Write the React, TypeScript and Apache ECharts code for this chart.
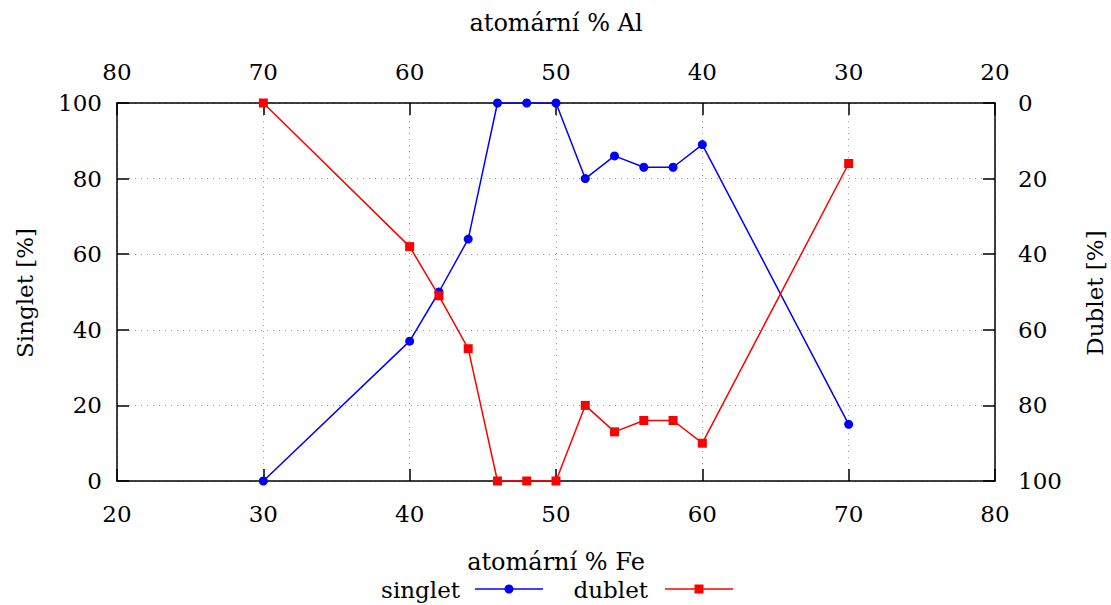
import React, { useEffect, useRef } from "react";
import * as echarts from "echarts";

const feValues = [30, 40, 42, 44, 46, 48, 50, 52, 54, 56, 58, 60, 70];
const singletValues = [0, 37, 50, 64, 100, 100, 100, 80, 86, 83, 83, 89, 15];
const dubletValues = [0, 38, 51, 65, 100, 100, 100, 80, 87, 84, 84, 90, 16];

const seriesNames = ["singlet", "dublet"];
const xTitleBottom = "atomární % Fe";
const xTitleTop = "atomární % Al";
const yTitleLeft = "Singlet [%]";
const yTitleRight = "Dublet [%]";

const FONT = "DejaVu Serif, serif";

export default function App() {
  const ref = useRef<HTMLDivElement>(null);

  useEffect(() => {
    if (!ref.current) return;
    const chart = echarts.init(ref.current, undefined, { renderer: "svg" });

    const axisLine = { show: true, lineStyle: { color: "#000", width: 1.5 } };
    const axisTick = { show: true, inside: true, length: 12, lineStyle: { color: "#000", width: 1.5 } };
    const labelStyle = { color: "#000", fontSize: 23, fontFamily: FONT };
    const dotted = { show: true, lineStyle: { color: "#9a9a9a", width: 1, type: [1, 5] as any } };

    const singletData = feValues.map((x, i) => [x, singletValues[i]]);
    const dubletData = feValues.map((x, i) => [x, dubletValues[i]]);

    const titleStyle = { fill: "#000", fontSize: 24, fontFamily: FONT, align: "center", verticalAlign: "middle" };
    const vTitleStyle = { ...titleStyle, fontSize: 23 };

    chart.setOption({
      animation: false,
      backgroundColor: "#fff",
      textStyle: { fontFamily: FONT },
      grid: { left: 117, right: 116, top: 103, bottom: 124, containLabel: false },
      xAxis: [
        {
          type: "value", position: "bottom", min: 20, max: 80, interval: 10,
          axisLine, axisTick, axisLabel: { ...labelStyle, margin: 21 },
          splitLine: dotted,
        },
        {
          type: "value", position: "top", min: 20, max: 80, interval: 10, inverse: true,
          axisLine, axisTick, axisLabel: { ...labelStyle, margin: 20 },
          splitLine: { show: false },
        },
      ],
      yAxis: [
        {
          type: "value", position: "left", min: 0, max: 100, interval: 20,
          axisLine, axisTick, axisLabel: { ...labelStyle, margin: 15 },
          splitLine: dotted,
        },
        {
          type: "value", position: "right", min: 0, max: 100, interval: 20, inverse: true,
          axisLine, axisTick, axisLabel: { ...labelStyle, margin: 23 },
          splitLine: { show: false },
        },
      ],
      series: [
        {
          name: seriesNames[0], type: "line", xAxisIndex: 0, yAxisIndex: 0,
          data: singletData, symbol: "circle", symbolSize: 9,
          itemStyle: { color: "#0000ff" }, lineStyle: { color: "#0000ff", width: 1.5 },
          z: 3,
        },
        {
          name: seriesNames[1], type: "line", xAxisIndex: 0, yAxisIndex: 1,
          data: dubletData, symbol: "rect", symbolSize: 9,
          itemStyle: { color: "#ff0000" }, lineStyle: { color: "#ff0000", width: 1.5 },
          z: 4,
        },
      ],
      graphic: [
        { type: "text", x: 556, y: 23, style: { text: xTitleTop, ...titleStyle } },
        { type: "text", x: 556, y: 562, style: { text: xTitleBottom, ...titleStyle } },
        { type: "text", x: 25, y: 293, rotation: Math.PI / 2, style: { text: yTitleLeft, ...vTitleStyle } },
        { type: "text", x: 1095, y: 293, rotation: Math.PI / 2, style: { text: yTitleRight, ...vTitleStyle } },
        { type: "text", x: 460, y: 590, style: { text: seriesNames[0], fill: "#000", fontSize: 23, fontFamily: FONT, align: "right", verticalAlign: "middle" } },
        { type: "line", shape: { x1: 475, y1: 589, x2: 543, y2: 589 }, style: { stroke: "#0000ff", lineWidth: 1.5 } },
        { type: "circle", shape: { cx: 509, cy: 589, r: 4.5 }, style: { fill: "#0000ff" } },
        { type: "text", x: 648, y: 590, style: { text: seriesNames[1], fill: "#000", fontSize: 23, fontFamily: FONT, align: "right", verticalAlign: "middle" } },
        { type: "line", shape: { x1: 665, y1: 589, x2: 733, y2: 589 }, style: { stroke: "#ff0000", lineWidth: 1.5 } },
        { type: "rect", shape: { x: 694.5, y: 584.5, width: 9, height: 9 }, style: { fill: "#ff0000" } },
      ],
    });

    return () => chart.dispose();
  }, []);

  return (
    <div
      ref={ref}
      style={{ position: "absolute", left: 0, top: 0, width: 1111, height: 605, background: "#fff" }}
    />
  );
}
